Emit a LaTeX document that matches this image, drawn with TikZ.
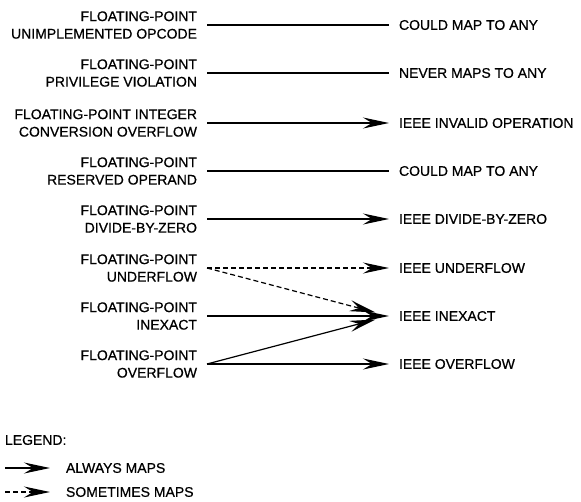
\documentclass[tikz,border=0pt]{standalone}
\usepackage{fontspec}
\setmainfont{Liberation Sans}[FakeBold=0.6]
\usetikzlibrary{arrows.meta}
\tikzset{
  lbl/.style={font=\fontsize{14}{17.5}\selectfont, inner xsep=5pt, outer xsep=5pt, inner ysep=0pt, outer ysep=0pt},
  src/.style={lbl, anchor=east, align=right},
  dst/.style={lbl, anchor=west, align=left},
  legtext/.style={lbl, anchor=west, outer xsep=11pt},
  conn/.style={line width=1.2pt},
  tip/.style={-{Stealth[length=26pt,width=11pt,inset=9pt]}},
  always/.style={conn, tip},
  sometimes/.style={conn, tip, dash pattern=on 5pt off 3pt},
}
\begin{document}
\begin{tikzpicture}[x=1pt,y=-1pt]
\useasboundingbox (0,0) rectangle (581,501);
% sources
\node[src] (s1) at (207,25)  {FLOATING-POINT\\UNIMPLEMENTED OPCODE};
\node[src] (s2) at (207,73)  {FLOATING-POINT\\PRIVILEGE VIOLATION};
\node[src] (s3) at (207,123) {FLOATING-POINT INTEGER\\CONVERSION OVERFLOW};
\node[src] (s4) at (207,171) {FLOATING-POINT\\RESERVED OPERAND};
\node[src] (s5) at (207,219) {FLOATING-POINT\\DIVIDE-BY-ZERO};
\node[src] (s6) at (207,268) {FLOATING-POINT\\UNDERFLOW};
\node[src] (s7) at (207,316) {FLOATING-POINT\\INEXACT};
\node[src] (s8) at (207,364) {FLOATING-POINT\\OVERFLOW};
% destinations
\node[dst] (d1) at (389,25)  {COULD MAP TO ANY};
\node[dst] (d2) at (389,73)  {NEVER MAPS TO ANY};
\node[dst] (d3) at (389,123) {IEEE INVALID OPERATION};
\node[dst] (d4) at (389,171) {COULD MAP TO ANY};
\node[dst] (d5) at (389,219) {IEEE DIVIDE-BY-ZERO};
\node[dst] (d6) at (389,268) {IEEE UNDERFLOW};
\node[dst] (d7) at (389,316) {IEEE INEXACT};
\node[dst] (d8) at (389,364) {IEEE OVERFLOW};
% connectors
\draw[conn] (s1.east) -- (d1.west);
\draw[conn] (s2.east) -- (d2.west);
\draw[always] (s3.east) -- (d3.west);
\draw[conn] (s4.east) -- (d4.west);
\draw[always] (s5.east) -- (d5.west);
\draw[sometimes] (s6.east) -- (d6.west);
\draw[sometimes, shorten >=14pt] (s6.east) -- (d7.west);
\draw[always] (s7.east) -- (d7.west);
\draw[always, shorten >=14pt] (s8.east) -- (d7.west);
\draw[always] (s8.east) -- (d8.west);
% legend
\node[lbl, anchor=west, inner xsep=0pt, outer xsep=0pt] (leg) at (5,440) {LEGEND:};
\coordinate (la) at (5,468);
\coordinate (lb) at (5,492);
\node[legtext] (lt1) at (50,468) {ALWAYS MAPS};
\node[legtext] (lt2) at (50,492) {SOMETIMES MAPS};
\draw[always] (la) -- (lt1.west);
\draw[sometimes] (lb) -- (lt2.west);
\end{tikzpicture}
\end{document}
